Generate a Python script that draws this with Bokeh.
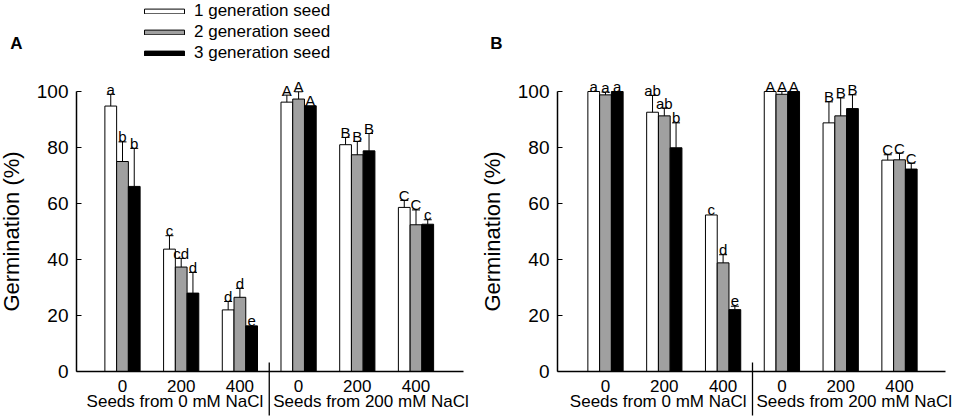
from bokeh.plotting import figure
from bokeh.models import (Range1d, FixedTicker, Legend, LegendItem, Label,
                          ColumnDataSource)
from bokeh.layouts import row
from bokeh.embed import file_html
from bokeh.resources import INLINE
from bokeh.core.properties import value

# ---------------- data ----------------
sources = ["Seeds from 0 mM NaCl", "Seeds from 200 mM NaCl"]
nacl = ["0", "200", "400"]
series_names = ["1 generation seed", "2 generation seed", "3 generation seed"]
y_ticks = [0, 20, 40, 60, 80, 100]
y_title = "Germination (%)"

A_gen1 = [94.8, 43.7, 22.0, 96.2, 81.0, 58.6]
A_gen1_err = [4.2, 4.8, 3.0, 2.5, 2.6, 2.5]
A_gen2 = [75.0, 37.3, 26.5, 97.3, 77.4, 52.4]
A_gen2_err = [7.0, 3.1, 3.2, 2.6, 4.8, 5.3]
A_gen3 = [66.1, 28.0, 16.3, 94.9, 78.8, 52.6]
A_gen3_err = [13.6, 7.4, 0.0, 0.0, 6.2, 1.6]
A_sig1 = ["a", "c", "d", "A", "B", "C"]
A_sig2 = ["b", "cd", "d", "A", "B", "C"]
A_sig3 = ["b", "d", "e", "A", "B", "c"]

B_gen1 = [100.0, 92.6, 55.9, 100.0, 88.8, 75.5]
B_gen1_err = [0.0, 6.0, 0.0, 0.0, 7.5, 1.9]
B_gen2 = [98.8, 91.3, 38.8, 99.0, 91.3, 75.6]
B_gen2_err = [1.0, 2.8, 2.9, 1.0, 6.4, 2.4]
B_gen3 = [100.0, 79.9, 22.1, 100.0, 93.9, 72.3]
B_gen3_err = [0.0, 8.9, 1.2, 0.0, 4.9, 2.1]
B_sig1 = ["a", "ab", "c", "A", "B", "C"]
B_sig2 = ["a", "ab", "d", "A", "B", "C"]
B_sig3 = ["a", "b", "e", "A", "B", "C"]

# ---------------- styling / layout constants ----------------
FONT = "Liberation Sans"
colors = ["white", "#a0a0a0", "black"]
offsets = [-0.2, 0.0, 0.2]
BAR_W = 0.2
H = 416
AXIS_Y = 371          # pixel row of the x axis
PX_PER_PCT = 2.8


def make_panel(gens, errs, sigs, tag, fig_w, first_px, unit_px, yaxis_px, xend_px,
               with_legend):
    cats = [(s, n) for s in sources for n in nacl]
    idx = list(range(len(cats)))
    x0 = -first_px / unit_px
    p = figure(x_range=Range1d(x0, x0 + fig_w / unit_px),
               y_range=Range1d(-(H - AXIS_Y) / PX_PER_PCT, AXIS_Y / PX_PER_PCT),
               width=fig_w, height=H, output_backend="svg", toolbar_location=None,
               min_border=0, min_border_left=0, min_border_right=0,
               min_border_top=0, min_border_bottom=0)
    p.outline_line_color = None
    p.xgrid.visible = False
    p.ygrid.visible = False
    p.background_fill_color = "white"
    p.border_fill_color = "white"

    yaxis_x = x0 + yaxis_px / unit_px
    xend = x0 + xend_px / unit_px
    sep_x = (idx[len(nacl) - 1] + idx[len(nacl)]) / 2

    rends = []
    for i in range(3):
        xs = [k + offsets[i] for k in idx]
        upper = [v + e for v, e in zip(gens[i], errs[i])]
        src = ColumnDataSource(dict(x=xs, top=gens[i], upper=upper, sig=sigs[i]))
        r = p.vbar(x="x", top="top", width=BAR_W, source=src,
                   fill_color=colors[i], line_color="black", line_width=1)
        rends.append(r)
        keep = [j for j in idx if errs[i][j] > 0]
        esrc = ColumnDataSource(dict(x=[xs[j] for j in keep],
                                     top=[gens[i][j] for j in keep],
                                     upper=[upper[j] for j in keep]))
        p.segment(x0="x", y0="top", x1="x", y1="upper", source=esrc,
                  line_color="black", line_width=1)
        p.scatter(x="x", y="upper", marker="dash", size=8, source=esrc,
                  line_color="black", line_width=1)
        p.text(x="x", y="upper", text="sig", source=src, text_align="center",
               text_baseline="alphabetic", y_offset=-5,
               text_font=value(FONT), text_font_size="15px", text_color="black")

    # group separator
    p.segment(x0=[sep_x], y0=[9 / PX_PER_PCT], x1=[sep_x], y1=[-(H - 1 - AXIS_Y) / PX_PER_PCT],
              line_color="black", line_width=1.3)
    # group labels, set either side of the separator
    p.text(x=[sep_x], y=[0], text=[sources[0]], x_offset=-6, y_offset=30,
           text_align="right", text_baseline="middle",
           text_font=value(FONT), text_font_size="17px", text_color="black")
    p.text(x=[sep_x], y=[0], text=[sources[1]], x_offset=4, y_offset=30,
           text_align="left", text_baseline="middle",
           text_font=value(FONT), text_font_size="17px", text_color="black")

    # y axis
    ya = p.yaxis[0]
    ya.fixed_location = yaxis_x
    ya.bounds = (0, 100)
    ya.ticker = FixedTicker(ticks=y_ticks)
    ya.major_tick_in = 5
    ya.major_tick_out = 0
    ya.minor_tick_line_color = None
    ya.major_label_text_font = FONT
    ya.major_label_text_font_size = "19px"
    ya.major_label_text_color = "black"
    ya.major_label_standoff = 8
    ya.axis_line_width = 1.5
    ya.major_tick_line_width = 1.2
    ya.axis_label = y_title
    ya.axis_label_text_font = FONT
    ya.axis_label_text_font_size = "22px"
    ya.axis_label_text_font_style = "normal"
    ya.axis_label_text_color = "black"
    ya.axis_label_standoff = 10

    # x axis
    xa = p.xaxis[0]
    xa.fixed_location = 0
    xa.bounds = (yaxis_x, xend)
    xa.ticker = FixedTicker(ticks=idx)
    xa.major_label_overrides = {k: cats[k][1] for k in idx}
    xa.major_tick_line_color = None
    xa.minor_tick_line_color = None
    xa.major_label_text_font = FONT
    xa.major_label_text_font_size = "17px"
    xa.major_label_text_color = "black"
    xa.major_label_standoff = 2
    xa.axis_line_width = 1.5

    # panel tag
    p.add_layout(Label(x=16, y=H - 43, x_units="screen", y_units="screen",
                       text=tag, text_align="center", text_baseline="middle",
                       text_font=FONT, text_font_size="17px", text_font_style="bold",
                       text_color="black"))

    if with_legend:
        items = [LegendItem(label=series_names[i], renderers=[rends[i]]) for i in range(3)]
        leg = Legend(items=items, location=(139, H - 63), orientation="vertical",
                     glyph_width=50, glyph_height=6, label_height=20, spacing=1,
                     label_standoff=5, padding=0, margin=0,
                     border_line_color=None, background_fill_alpha=0,
                     label_text_font=FONT, label_text_font_size="17px",
                     label_text_color="black")
        p.add_layout(leg)
    return p


pA = make_panel([A_gen1, A_gen2, A_gen3], [A_gen1_err, A_gen2_err, A_gen3_err],
                [A_sig1, A_sig2, A_sig3], "A", 480, 122, 58.7, 76, 463, True)
pB = make_panel([B_gen1, B_gen2, B_gen3], [B_gen1_err, B_gen2_err, B_gen3_err],
                [B_sig1, B_sig2, B_sig3], "B", 476, 125, 58.8, 77, 465, False)

layout = row(pA, pB)
open("out.html", "w").write(file_html(layout, INLINE))
